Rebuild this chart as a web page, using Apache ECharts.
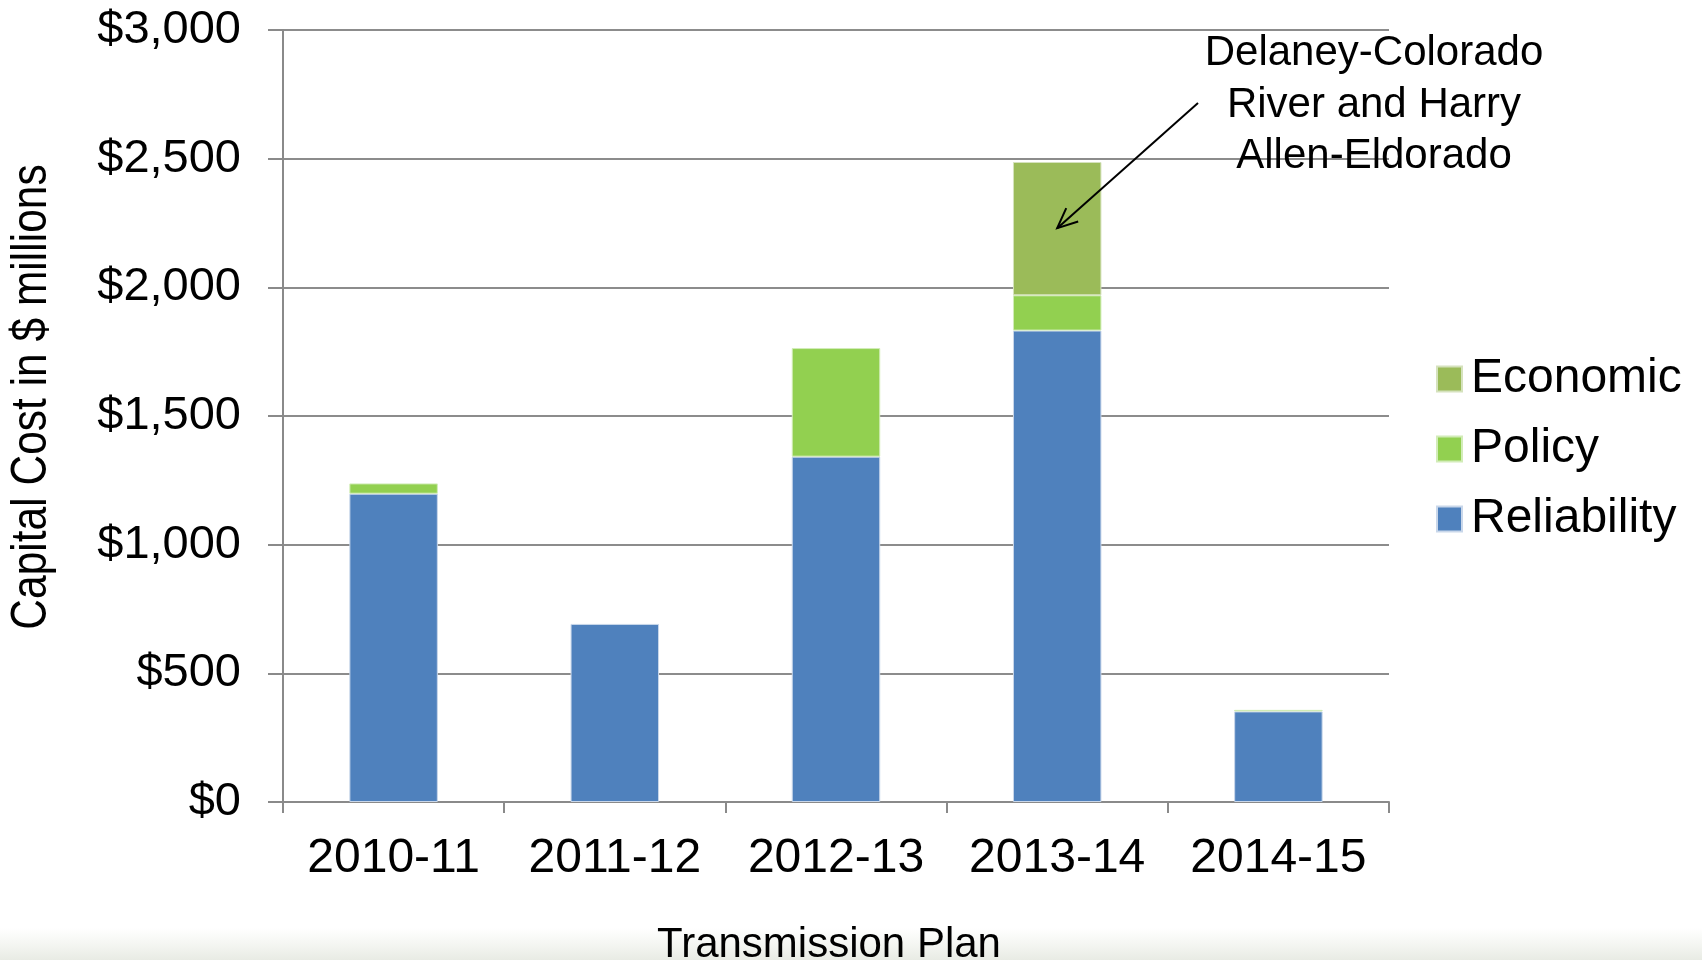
<!DOCTYPE html>
<html>
<head>
<meta charset="utf-8">
<script src="https://cdn.jsdelivr.net/npm/echarts@6/dist/echarts.min.js"></script>
<style>
html,body{margin:0;padding:0;background:#fff;}
#chart{width:1702px;height:960px;}
</style>
</head>
<body>
<div id="chart"></div>
<script>
const categories = ['2010-11', '2011-12', '2012-13', '2013-14', '2014-15'];
const reliability = [1198, 692, 1342, 1832, 352];
const policy = [40, 0, 422, 137, 6];
const economic = [0, 0, 0, 518, 0];
const yTicks = [0, 500, 1000, 1500, 2000, 2500, 3000];
const legendNames = ['Economic', 'Policy', 'Reliability'];
const annotationText = 'Delaney-Colorado\nRiver and Harry\nAllen-Eldorado';
const xTitle = 'Transmission Plan';
const yTitle = 'Capital Cost in $ millions';

const FONT = "'Liberation Sans', Arial, sans-serif";
const chart = echarts.init(document.getElementById('chart'));

function money(v) {
  return '$' + v.toLocaleString('en-US');
}
function skipZero(arr) {
  return arr.map(function (v) { return v === 0 ? '-' : v; });
}

const option = {
  animation: false,
  backgroundColor: '#ffffff',
  grid: { left: 283, right: 313, top: 30, bottom: 158, containLabel: false },
  legend: {
    orient: 'vertical',
    left: 1436,
    top: 355,
    padding: 0,
    data: legendNames,
    icon: 'rect',
    itemWidth: 25,
    itemHeight: 25,
    itemGap: 22,
    textStyle: { fontFamily: FONT, fontSize: 48, color: '#000', lineHeight: 48, padding: [0, 0, 0, 4] }
  },
  xAxis: {
    type: 'category',
    data: categories,
    axisLine: { show: true, lineStyle: { color: '#8a8a8a', width: 2 } },
    axisTick: { show: true, interval: 0, length: 11, lineStyle: { color: '#8a8a8a', width: 2 } },
    axisLabel: { interval: 0, fontFamily: FONT, fontSize: 48, color: '#000', margin: 33 }
  },
  yAxis: {
    type: 'value',
    min: 0,
    max: 3000,
    interval: 500,
    axisLine: { show: true, lineStyle: { color: '#8a8a8a', width: 2 } },
    axisTick: { show: true, length: 15, lineStyle: { color: '#8a8a8a', width: 2 } },
    axisLabel: {
      fontFamily: FONT, fontSize: 47, color: '#000', margin: 42,
      formatter: function (v) { return yTicks.indexOf(v) >= 0 ? money(v) : ''; }
    },
    splitLine: { show: true, lineStyle: { color: '#8c8c8c', width: 2 } }
  },
  series: [
    { name: 'Reliability', type: 'bar', stack: 'total', data: skipZero(reliability), barWidth: '40%',
      itemStyle: { color: '#4F81BD', borderColor: '#c9d7ea', borderWidth: 1 } },
    { name: 'Policy', type: 'bar', stack: 'total', data: skipZero(policy), barWidth: '40%',
      itemStyle: { color: '#92D050', borderColor: '#d2ecb8', borderWidth: 1 } },
    { name: 'Economic', type: 'bar', stack: 'total', data: skipZero(economic), barWidth: '40%',
      itemStyle: { color: '#9BBB59', borderColor: '#d5e2bd', borderWidth: 1 } }
  ]
};
chart.setOption(option);

// arrow pointing into the Economic segment of 2013-14
const end = chart.convertToPixel({ gridIndex: 0 }, ['2013-14', 2230]);
const start = [1198, 103];
const dx = end[0] - start[0], dy = end[1] - start[1];
const len = Math.sqrt(dx * dx + dy * dy);
const ux = dx / len, uy = dy / len;
const headLen = 22, ang = 0.42;
function rot(x, y, a) { return [x * Math.cos(a) - y * Math.sin(a), x * Math.sin(a) + y * Math.cos(a)]; }
const h1 = rot(-ux, -uy, ang), h2 = rot(-ux, -uy, -ang);

chart.setOption({
  graphic: [
    {
      type: 'rect', silent: true, z: -10,
      shape: { x: 0, y: 928, width: 1702, height: 32 },
      style: {
        fill: new echarts.graphic.LinearGradient(0, 0, 0, 1, [
          { offset: 0, color: 'rgba(235,238,230,0)' },
          { offset: 1, color: 'rgba(232,235,228,1)' }
        ])
      }
    },
    {
      type: 'text', z: 100, x: 1374, y: 28,
      style: { text: annotationText, font: '42px ' + FONT, fill: '#000', align: 'center', verticalAlign: 'top', lineHeight: 51.5 }
    },
    {
      type: 'line', z: 100,
      shape: { x1: start[0], y1: start[1], x2: end[0], y2: end[1] },
      style: { stroke: '#000', lineWidth: 2 }
    },
    {
      type: 'polyline', z: 100,
      shape: { points: [[end[0] + h1[0] * headLen, end[1] + h1[1] * headLen], end, [end[0] + h2[0] * headLen, end[1] + h2[1] * headLen]] },
      style: { stroke: '#000', lineWidth: 2, fill: null }
    },
    {
      type: 'text', z: 100, x: 829, y: 924,
      style: { text: xTitle, font: '42px ' + FONT, fill: '#000', align: 'center', verticalAlign: 'top' }
    },
    {
      type: 'text', z: 100, x: 32, y: 397, rotation: Math.PI / 2, scaleX: 0.85,
      style: { text: yTitle, font: '50px ' + FONT, fill: '#000', align: 'center', verticalAlign: 'middle' }
    }
  ]
});
</script>
</body>
</html>
